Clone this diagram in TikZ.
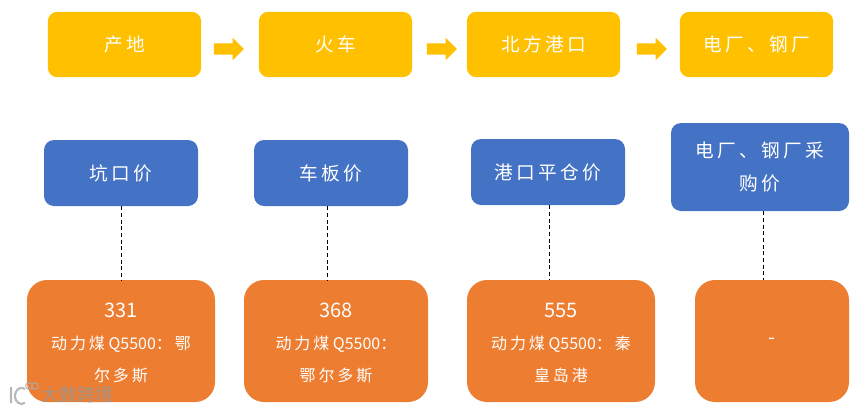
\documentclass[tikz,border=0pt]{standalone}
\usepackage{fontspec}
\newfontfamily\cjk[LetterSpace=18]{Noto Sans CJK SC}
\newfontfamily\cjknum{Noto Sans CJK SC}
\usetikzlibrary{shapes.arrows}

\definecolor{stagecol}{HTML}{FFC000}
\definecolor{pricecol}{HTML}{4472C4}
\definecolor{valuecol}{HTML}{ED7D31}

\tikzset{
  box/.style={inner sep=0pt,text=white,align=center,font=\fontsize{14}{24.75}\cjk},
  stagebox/.style={box,fill=stagecol,rounded corners=7pt,minimum width=115pt,minimum height=49pt},
  pricebox/.style={box,fill=pricecol,rounded corners=7.5pt,minimum width=115.5pt,minimum height=49.5pt},
  valuebox/.style={box,fill=valuecol,rounded corners=15pt,minimum height=91.5pt,font=\fontsize{12}{24}\cjk},
  flow/.style={single arrow,fill=stagecol,inner xsep=0pt,inner ysep=4.1pt,minimum height=22.5pt,minimum width=16.5pt,
    single arrow head extend=4.1pt,single arrow head indent=0pt},
  link/.style={densely dashed,line width=0.6pt},
}
\newcommand{\bignum}[1]{{\fontsize{15}{24}\cjknum\rule{0pt}{13.5pt}#1}}
\newcommand{\qcode}{{\cjknum\ Q5500}}

\begin{document}
\begin{tikzpicture}[x=0.75pt,y=-0.75pt]
  \useasboundingbox (0,0) rectangle (858,412);

  % top row
  \node[stagebox] (origin) at (124.5,44.5) {产地};
  \node[stagebox] (train) at (335.5,44.5) {火车};
  \node[stagebox] (port) at (543.5,44.5) {北方港口};
  \node[stagebox] (plant) at (756.5,44.5) {电厂、钢厂};

  \node[flow] (flowa) at (226,49) {};
  \node[flow] (flowb) at (439,49) {};
  \node[flow] (flowc) at (649,49) {};

  % price names
  \node[pricebox] (pricea) at (121,173) {坑口价};
  \node[pricebox] (priceb) at (331,173) {车板价};
  \node[pricebox] (pricec) at (548,172) {港口平仓价};
  \node[pricebox,minimum width=133.5pt,minimum height=66pt] (priced) at (760,167) {电厂、钢厂采\\购价};

  % values
  \node[valuebox,minimum width=141pt] (valuea) at (121,341) {\bignum{331}\\动力煤\qcode：鄂\\尔多斯};
  \node[valuebox,minimum width=138pt] (valueb) at (336,341) {\bignum{368}\\动力煤\qcode：\\鄂尔多斯};
  \node[valuebox,minimum width=141pt] (valuec) at (561,341) {\bignum{555}\\动力煤\qcode：秦\\皇岛港};
  \node[valuebox,minimum width=115.5pt,font=\fontsize{15}{24}\cjknum] (valued) at (772,341) {-};

  \draw[link] (pricea.south) -- (pricea.south |- valuea.north);
  \draw[link] ([xshift=-3pt]priceb.south) -- ([xshift=-3pt]priceb.south |- valueb.north);
  \draw[link] ([xshift=0.75pt]pricec.south) -- ([xshift=0.75pt]pricec.south |- valuec.north);
  \draw[link] ([xshift=2.25pt]priced.south) -- ([xshift=2.25pt]priced.south |- valued.north);

  % watermark
  \node[inner sep=0pt,text=gray!80,opacity=0.85,font=\fontsize{13.5}{15}\cjknum] (mark) at (77,395) {大数跨境};
  \draw[gray!65,line width=1.6pt,opacity=0.85] (11,387) -- (11,403) (25,389) arc (60:300:5pt and 6pt);
  \draw[gray!65,line width=0.8pt,opacity=0.85] (29,386) circle (2.5pt) (35,386) circle (2.5pt);
\end{tikzpicture}
\end{document}
